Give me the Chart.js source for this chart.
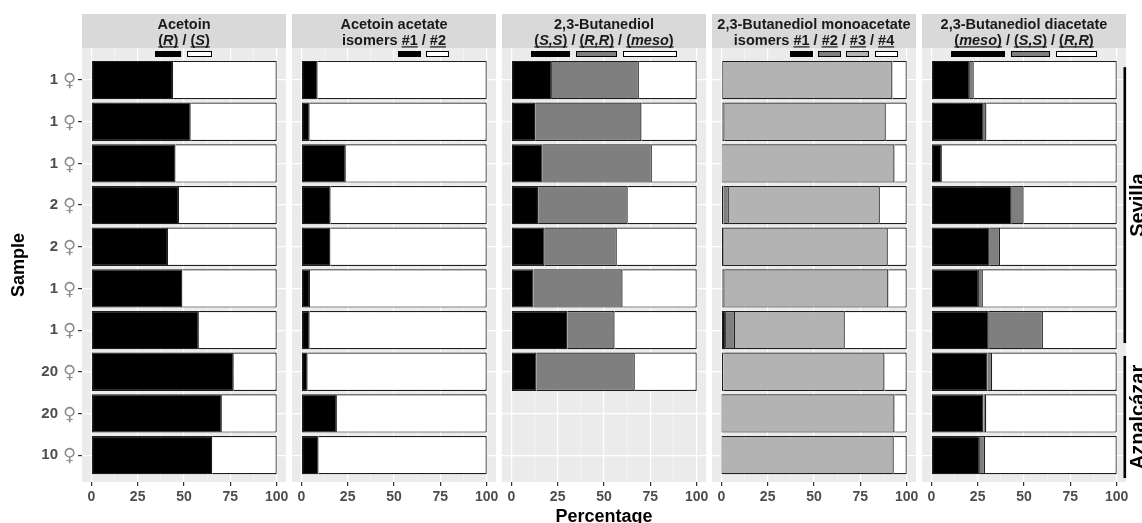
<!DOCTYPE html>
<html>
<head>
<meta charset="utf-8">
<script src="https://cdn.jsdelivr.net/npm/chart.js@4/dist/chart.umd.min.js"></script>
<style>
html,body{margin:0;padding:0;background:#ffffff;}
#wrap{position:relative;width:1142px;height:523px;overflow:hidden;background:#ffffff;}
#wrap canvas{position:absolute;left:0;top:0;}
</style>
</head>
<body>
<div id="wrap"></div>
<script>
// ---------- data ----------
const SAMPLE_COUNTS = ["1","1","1","2","2","1","1","20","20","10"];
const SAMPLE_SYMBOL = "\u2640";
const LOCALITIES = ["Sevilla","Aznalcázar"];
const LOCALITY_SPANS = [[-0.31, 6.31], [6.62, 9.55]];
const X_TICKS = [0, 12.5, 25, 37.5, 50, 62.5, 75, 87.5, 100];

const PANEL_TITLES = ["Acetoin","Acetoin acetate","2,3-Butanediol","2,3-Butanediol monoacetate","2,3-Butanediol diacetate"];
const PANEL_PREFIXES = ["","isomers ","","isomers ",""];
const PANEL_SERIES = [
  ["(*R*)","(*S*)"],
  ["#1","#2"],
  ["(*S,S*)","(*R,R*)","(*meso*)"],
  ["#1","#2","#3","#4"],
  ["(*meso*)","(*S,S*)","(*R,R*)"]
];

const ACETOIN_R = [44.1,53.6,45.4,47.3,41.4,49.1,58.0,76.8,70.4,65.2];
const ACETOIN_S = [55.9,46.4,54.6,52.7,58.6,50.9,42.0,23.2,29.6,34.8];
const ACETATE_1 = [8.8,4.5,24.0,15.8,15.7,4.7,4.5,3.4,19.2,9.3];
const ACETATE_2 = [91.2,95.5,76.0,84.2,84.3,95.3,95.5,96.6,80.8,90.7];
const BDO_SS   = [21.9,12.9,16.9,14.5,18.0,12.0,30.2,13.6,null,null];
const BDO_RR   = [46.9,57.3,58.9,48.3,38.9,48.0,25.5,53.0,null,null];
const BDO_MESO = [31.2,29.8,24.2,37.2,43.1,40.0,44.3,33.4,null,null];
const MONO_1 = [0.8,0.7,0.2,1.2,1.0,0.7,2.5,1.0,0.1,0.1];
const MONO_2 = [0.1,1.1,0.1,2.9,0.5,1.1,4.9,0.1,0.1,0.1];
const MONO_3 = [91.4,86.9,93.1,81.4,88.3,88.3,59.2,86.9,93.2,92.8];
const MONO_4 = [7.7,11.3,6.6,14.5,10.2,9.9,33.4,12.0,6.6,7.0];
const DI_MESO = [20.8,28.3,5.7,43.4,31.5,25.7,31.0,30.3,28.1,26.2];
const DI_SS   = [2.1,1.4,0.1,6.4,5.6,2.1,29.2,2.5,1.5,2.8];
const DI_RR   = [77.1,70.3,94.2,50.2,62.9,72.2,39.8,67.2,70.4,71.0];

// ---------- styles / layout ----------
const BLACK = '#000000', DARK = '#7F7F7F', LIGHT = '#B3B3B3', WHITE = '#FFFFFF';
const PANEL_VALUES = [
  [ACETOIN_R, ACETOIN_S],
  [ACETATE_1, ACETATE_2],
  [BDO_SS, BDO_RR, BDO_MESO],
  [MONO_1, MONO_2, MONO_3, MONO_4],
  [DI_MESO, DI_SS, DI_RR]
];
const PANEL_COLORS = [
  [BLACK, WHITE],
  [BLACK, WHITE],
  [BLACK, DARK, WHITE],
  [BLACK, DARK, LIGHT, WHITE],
  [BLACK, DARK, WHITE]
];

const W = 1142, H = 523;
const PANEL_LEFT = 82, PANEL_STEP = 210, PANEL_W = 204;
const PANEL_TOP = 48, X_AXIS_H = 41, Y_AXIS_W = 82;
const STRIP_TOP = 14;
const Y_MIN = -0.77, Y_MAX = 9.645;
const FONT = '"Liberation Sans", Arial, sans-serif';

Chart.defaults.font.family = FONT;

const wrap = document.getElementById('wrap');

function drawStrip(chart, p) {
  const ctx = chart.ctx, a = chart.chartArea;
  ctx.save();
  ctx.fillStyle = '#D9D9D9';
  ctx.fillRect(a.left, STRIP_TOP, a.right - a.left, a.top - STRIP_TOP);
  const cx = (a.left + a.right) / 2;
  ctx.fillStyle = '#1A1A1A';
  ctx.textBaseline = 'alphabetic';
  ctx.textAlign = 'center';
  const fN = 'bold 14.5px ' + FONT, fI = 'italic bold 14.5px ' + FONT;
  ctx.font = fN;
  ctx.fillText(PANEL_TITLES[p], cx, 28.5);
  const runs = [];
  if (PANEL_PREFIXES[p]) runs.push({t: PANEL_PREFIXES[p], it: false, g: -1});
  PANEL_SERIES[p].forEach((nm, gi) => {
    if (gi > 0) runs.push({t: ' / ', it: false, g: -1});
    nm.split('*').forEach((part, k) => { if (part) runs.push({t: part, it: k % 2 === 1, g: gi}); });
  });
  let total = 0;
  runs.forEach(r => { ctx.font = r.it ? fI : fN; r.w = ctx.measureText(r.t).width; total += r.w; });
  let x = cx - total / 2;
  ctx.textAlign = 'left';
  const groups = [];
  runs.forEach(r => {
    ctx.font = r.it ? fI : fN;
    ctx.fillStyle = '#1A1A1A';
    ctx.fillText(r.t, x, 45);
    if (r.g >= 0) {
      if (!groups[r.g]) groups[r.g] = {x0: x, x1: x};
      groups[r.g].x1 = x + r.w;
    }
    x += r.w;
  });
  groups.forEach((g, gi) => {
    ctx.fillStyle = '#1A1A1A';
    ctx.fillRect(g.x0, 46.3, g.x1 - g.x0, 1.2);
    const kw = Math.max(g.x1 - g.x0 + 6, 23);
    const kx = Math.round((g.x0 + g.x1) / 2 - kw / 2);
    ctx.fillStyle = PANEL_COLORS[p][gi];
    ctx.fillRect(kx, 51, kw, 6);
    ctx.strokeStyle = '#000000';
    ctx.lineWidth = 1;
    ctx.strokeRect(kx + 0.5, 51.5, Math.round(kw) - 1, 5);
  });
  ctx.restore();
}

function makePanel(p) {
  const showY = p === 0;
  const left = PANEL_LEFT + p * PANEL_STEP;
  const canvas = document.createElement('canvas');
  canvas.width = W; canvas.height = H;
  canvas.style.width = W + 'px'; canvas.style.height = H + 'px';
  wrap.appendChild(canvas);

  const datasets = PANEL_VALUES[p].map((vals, k) => ({
    label: PANEL_SERIES[p][k].replace(/\*/g, ''),
    data: vals.map((v, i) => ({x: v, y: i})).filter(d => d.x !== null),
    backgroundColor: PANEL_COLORS[p][k],
    borderColor: '#1E1E1E',
    borderWidth: 1.2,
    borderSkipped: k === 0 ? false : 'start',
    categoryPercentage: 0.92,
    barPercentage: 1.0
  }));

  const plugin = {
    id: 'panelDeco' + p,
    beforeDraw(chart) {
      const a = chart.chartArea, ctx = chart.ctx;
      ctx.save();
      ctx.fillStyle = '#EBEBEB';
      ctx.fillRect(a.left, a.top, a.right - a.left, a.bottom - a.top);
      ctx.restore();
    },
    afterDraw(chart) {
      const ctx = chart.ctx, a = chart.chartArea, ys = chart.scales.y;
      drawStrip(chart, p);
      ctx.save();
      if (p === 0) {
        ctx.fillStyle = '#8F8F8F';
        ctx.font = '18px "DejaVu Sans"';
        ctx.textAlign = 'left';
        ctx.textBaseline = 'middle';
        SAMPLE_COUNTS.forEach((_, i) => ctx.fillText(SAMPLE_SYMBOL, 63, ys.getPixelForValue(i) + 1.5));
        ctx.fillStyle = '#000000';
        ctx.font = 'bold 18px ' + FONT;
        ctx.textAlign = 'center';
        ctx.textBaseline = 'alphabetic';
        ctx.translate(23.5, (a.top + a.bottom) / 2);
        ctx.rotate(-Math.PI / 2);
        ctx.fillText('Sample', 0, 0);
      }
      if (p === 2) {
        ctx.fillStyle = '#000000';
        ctx.font = 'bold 18px ' + FONT;
        ctx.textAlign = 'center';
        ctx.textBaseline = 'alphabetic';
        ctx.fillText('Percentage', (a.left + a.right) / 2, 522);
      }
      if (p === 4) {
        LOCALITIES.forEach((name, k) => {
          const y0 = ys.getPixelForValue(LOCALITY_SPANS[k][0]);
          const y1 = ys.getPixelForValue(LOCALITY_SPANS[k][1]);
          ctx.fillStyle = '#000000';
          ctx.fillRect(1123.5, y0, 2.6, y1 - y0);
          ctx.save();
          ctx.translate(1144, (y0 + y1) / 2);
          ctx.rotate(-Math.PI / 2);
          ctx.font = 'bold 20px ' + FONT;
          ctx.textAlign = 'center';
          ctx.textBaseline = 'alphabetic';
          ctx.fillText(name, 0, 0);
          ctx.restore();
        });
      }
      ctx.restore();
    }
  };

  return new Chart(canvas, {
    type: 'bar',
    data: {datasets},
    options: {
      indexAxis: 'y',
      responsive: false,
      animation: false,
      devicePixelRatio: 1,
      layout: {padding: {left: showY ? 0 : left, right: W - (left + PANEL_W), top: PANEL_TOP, bottom: 0}},
      plugins: {legend: {display: false}, tooltip: {enabled: false}, title: {display: false}},
      scales: {
        x: {
          type: 'linear', min: -5, max: 105, bounds: 'data', stacked: true, offset: false,
          afterBuildTicks: s => { s.ticks = X_TICKS.map(v => ({value: v})); },
          afterFit: s => { s.height = X_AXIS_H; },
          ticks: {
            autoSkip: false, maxRotation: 0, minRotation: 0, padding: 3,
            color: '#4D4D4D', font: {weight: 'bold', size: 14},
            callback: v => (v % 25 === 0 ? String(v) : '')
          },
          grid: {
            offset: false,
            color: c => (c.tick && c.tick.value % 25 === 0 ? '#FFFFFF' : 'rgba(255,255,255,0.75)'),
            lineWidth: c => (c.tick && c.tick.value % 25 === 0 ? 1.2 : 0.6),
            tickColor: c => (c.tick && c.tick.value % 25 === 0 ? '#333333' : 'rgba(0,0,0,0)'),
            tickLength: 4, drawTicks: true
          },
          border: {display: false}
        },
        y: {
          type: 'linear', min: Y_MIN, max: Y_MAX, bounds: 'data', reverse: true, stacked: true, offset: false,
          afterBuildTicks: s => { s.ticks = SAMPLE_COUNTS.map((_, i) => ({value: i})); },
          afterFit: s => { s.width = showY ? Y_AXIS_W : 0; },
          ticks: {
            display: showY, autoSkip: false, padding: 20,
            color: '#4D4D4D', font: {weight: 'bold', size: 15},
            callback: (v, i) => SAMPLE_COUNTS[i]
          },
          grid: {offset: false, color: '#FFFFFF', lineWidth: 1.2, drawTicks: showY, tickLength: 4, tickColor: '#333333'},
          border: {display: false}
        }
      }
    },
    plugins: [plugin]
  });
}

for (let p = 0; p < PANEL_TITLES.length; p++) makePanel(p);
</script>
</body>
</html>
